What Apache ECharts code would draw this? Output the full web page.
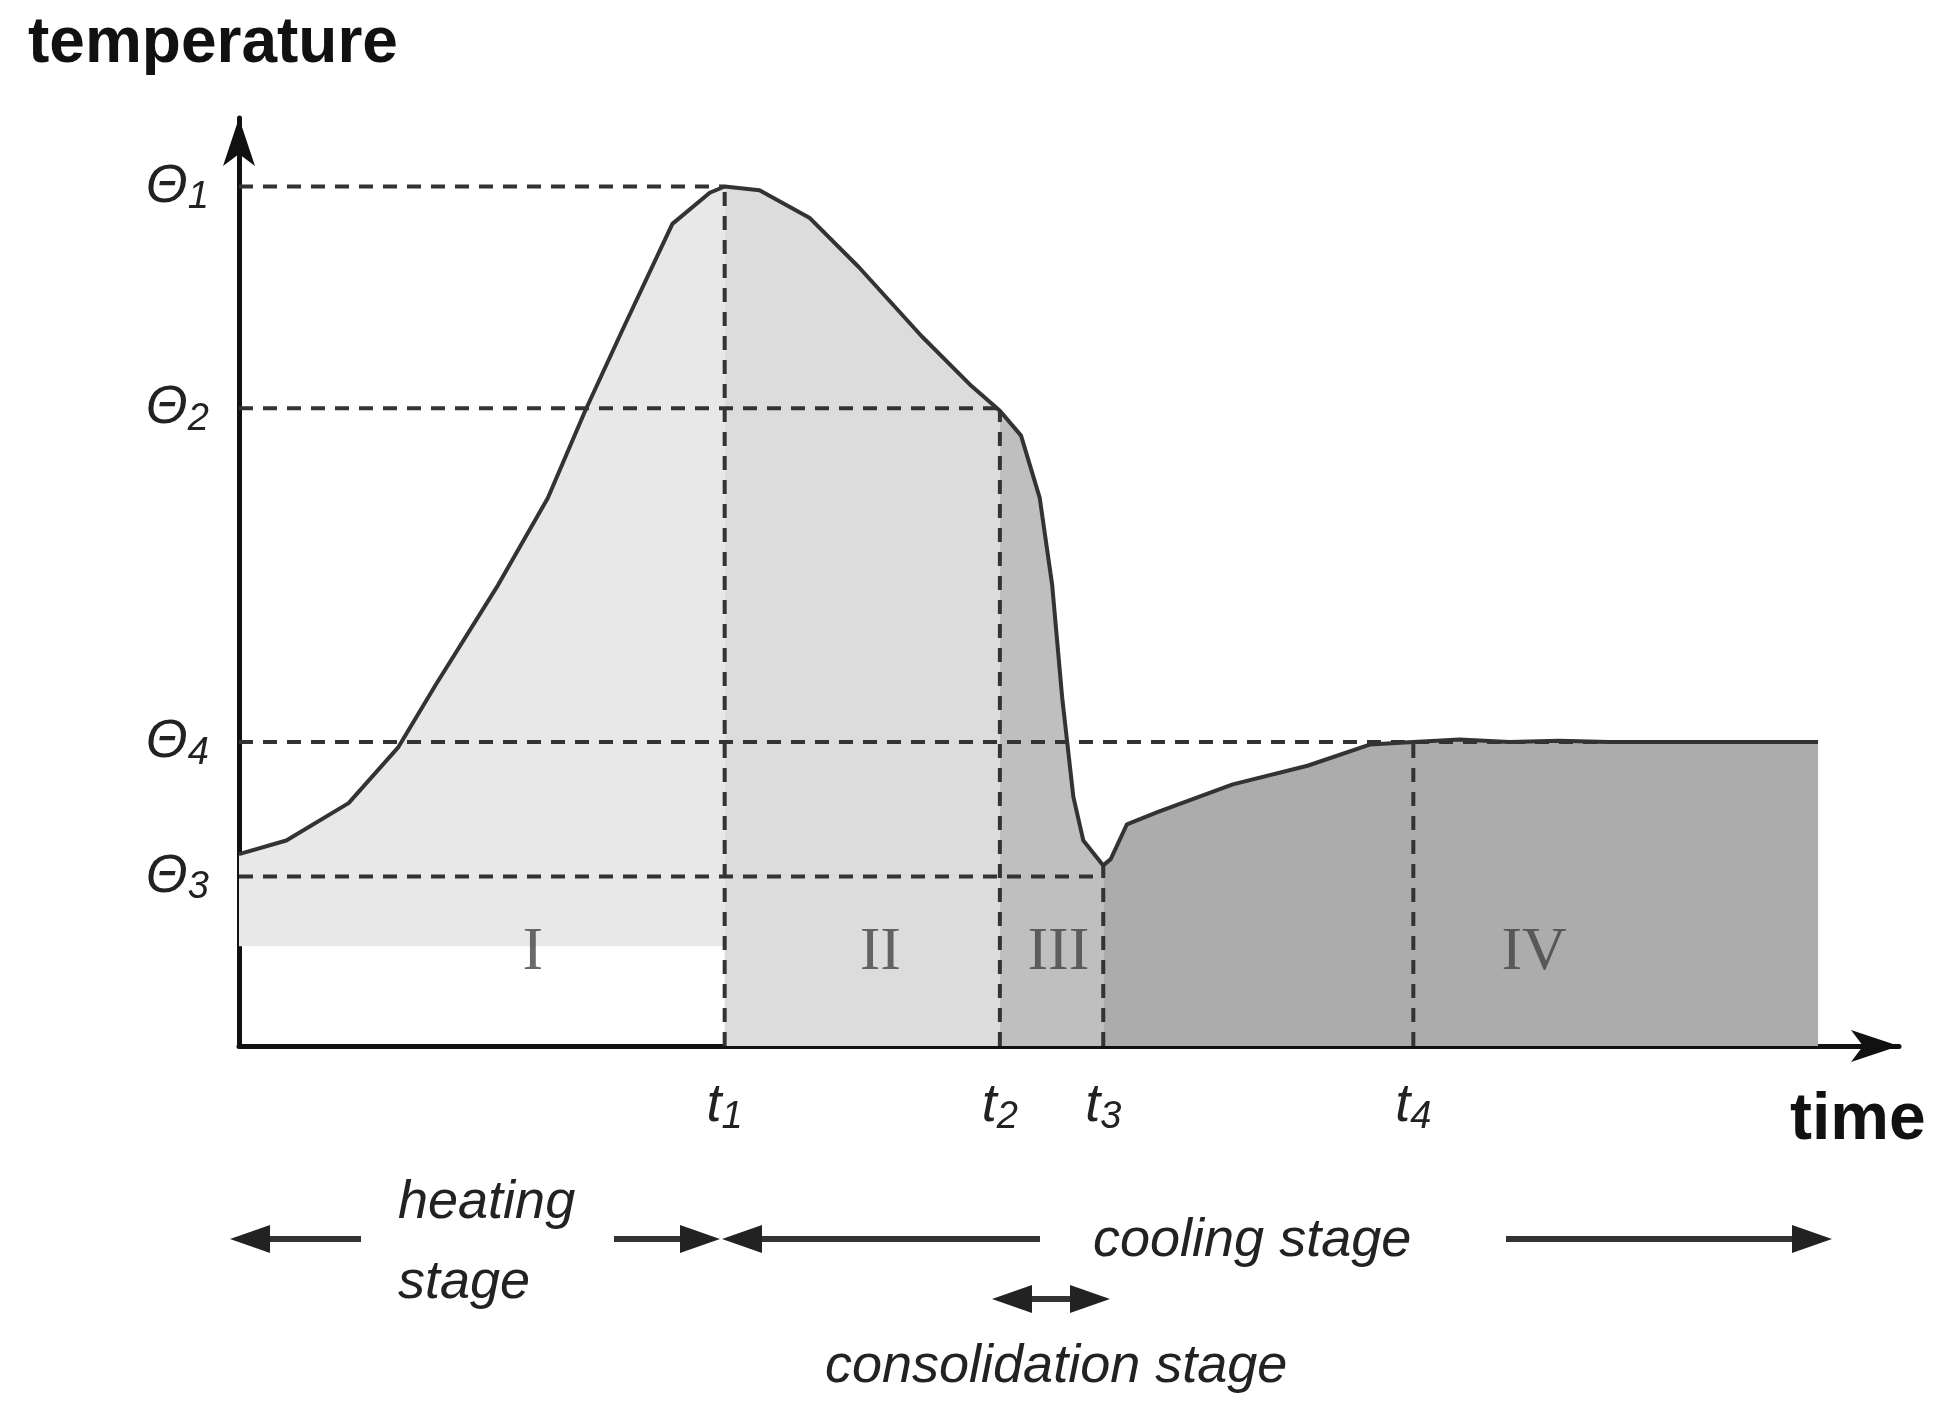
<!DOCTYPE html>
<html><head><meta charset="utf-8">
<script src="https://cdn.jsdelivr.net/npm/echarts@6/dist/echarts.min.js"></script>
<style>html,body{margin:0;background:#fff}#c{width:1948px;height:1421px}</style>
</head><body><div id="c"></div>
<script>
// temperature curve (time, temperature)
const curveT = [0,38,88,128,158,208,248,278,308,348,378,390,418,458,498,548,588,611,628,643,653,661,670,678,694,700,713,738,798,858,908,943,980,1020,1060,1100,1268];
const curveV = [154,165,195,240,290,370,440,510,575,660,685,690,687,665,625,570,530,510,490,440,370,280,200,165,145,150,178,188,210,225,242,244,246,244,245,244,244];
const tTicks = [390,611,694,943];
const tNames = ['1','2','3','4'];
const thetaTicks = [690,512,244,136];
const thetaNames = ['1','2','4','3'];
const stages = ['I','II','III','IV'];
const stageX = [236,515,658,1040];
const stageY = 75;
const regionBase = [80,0,0,0];
const regionColors = ['#e8e8e8','#dcdcdc','#bfbfbf','#acacac'];
const edges = [0,390,611,694,1268];

function valAt(t){
  for(let i=1;i<curveT.length;i++){
    if(t<=curveT[i]){const a=curveT[i-1],b=curveT[i];return curveV[i-1]+(curveV[i]-curveV[i-1])*(t-a)/(b-a);}
  }
  return curveV[curveV.length-1];
}
const curve = curveT.map((t,i)=>[t,curveV[i]]);
const regions = stages.map((s,k)=>{
  const pts=[[edges[k],regionBase[k]],[edges[k],valAt(edges[k])]];
  curveT.forEach((t,i)=>{if(t>edges[k]&&t<edges[k+1])pts.push([t,curveV[i]]);});
  pts.push([edges[k+1],valAt(edges[k+1])],[edges[k+1],regionBase[k]]);
  return pts;
});
// dashed guides
const guides = [];
guides.push([[0,690],[390,690]],[[0,512],[611,512]],[[0,244],[1268,244]],[[0,136],[694,136]]);
tTicks.forEach(t=>guides.push([[t,0],[t,valAt(t)]]));

const series = [{
  type:'custom', silent:true, z:1,
  renderItem:(p,api)=>{
    const k=p.dataIndex;
    return {type:'polygon',shape:{points:regions[k].map(q=>api.coord(q))},style:{fill:regionColors[k]}};
  },
  data:stages.map((s,k)=>[k])
}];
guides.forEach(g=>series.push({type:'line',data:g,symbol:'none',silent:true,z:3,
  lineStyle:{color:'#333',width:4,type:[14,10]}}));
series.push({type:'line',data:curve,symbol:'none',z:4,lineStyle:{color:'#333',width:4}});
series.push({type:'scatter',symbolSize:0,z:5,data:stages.map((s,k)=>[stageX[k],stageY,s]),
  label:{show:true,formatter:p=>p.data[2],color:'#444',fontFamily:'Liberation Serif',fontSize:62}});

const sub={t:{fontStyle:'italic',fontSize:54,color:'#222',fontFamily:'Liberation Sans'},
  s:{fontStyle:'italic',fontSize:38,color:'#222',fontFamily:'Liberation Sans',padding:[22,0,0,0]}};
const chart = echarts.init(document.getElementById('c'));
function arrowHead(x,y,dir){return {type:'polygon',shape:{points:[[x,y],[x-dir*40,y-14],[x-dir*40,y+14]]},style:{fill:'#222'}};}
function hline(x1,x2,y){return {type:'line',shape:{x1:x1,y1:y,x2:x2,y2:y},style:{stroke:'#333',lineWidth:6}};}
const it={fontStyle:'italic',fontSize:54,fill:'#222',fontFamily:'Liberation Sans'};
chart.setOption({
  animation:false,
  grid:{left:239,right:49,top:118,bottom:375},
  xAxis:{type:'value',min:0,max:1333,splitLine:{show:false},axisTick:{show:false},
    axisLine:{lineStyle:{color:'#111',width:5},symbol:['none','arrow'],symbolSize:[24,48]},
    axisLabel:{customValues:tTicks,margin:30,formatter:(v)=>'{t|t}{s|'+tNames[tTicks.indexOf(v)]+'}',rich:sub}},
  yAxis:{type:'value',min:0,max:745,splitLine:{show:false},axisTick:{show:false},
    axisLine:{lineStyle:{color:'#111',width:5},symbol:['none','arrow'],symbolSize:[24,48]},
    axisLabel:{customValues:thetaTicks,margin:30,formatter:(v)=>'{t|Θ}{s|'+thetaNames[thetaTicks.indexOf(v)]+'}',rich:sub}},
  series:series,
  graphic:[
    {type:'text',left:28,top:12,style:{text:'temperature',fontSize:64,fontWeight:'bold',fill:'#111',fontFamily:'Liberation Sans'}},
    {type:'text',left:1790,top:1088,style:{text:'time',fontSize:66,fontWeight:'bold',fill:'#111',fontFamily:'Liberation Sans'}},
    hline(260,361,1239),arrowHead(230,1239,-1),
    hline(614,690,1239),arrowHead(720,1239,1),
    hline(750,1040,1239),arrowHead(722,1239,-1),
    hline(1506,1800,1239),arrowHead(1832,1239,1),
    hline(1020,1080,1299),arrowHead(992,1299,-1),arrowHead(1110,1299,1),
    {type:'text',left:398,top:1176,style:Object.assign({text:'heating'},it)},
    {type:'text',left:398,top:1256,style:Object.assign({text:'stage'},it)},
    {type:'text',left:1093,top:1214,style:Object.assign({text:'cooling stage'},it)},
    {type:'text',left:825,top:1340,style:Object.assign({text:'consolidation stage'},it)}
  ]
});
</script></body></html>
